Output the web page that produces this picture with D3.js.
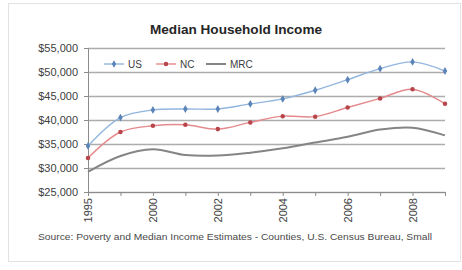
<!DOCTYPE html>
<html>
<head>
<meta charset="utf-8">
<script src="https://cdn.jsdelivr.net/npm/d3@7"></script>
<style>
  html, body { margin: 0; padding: 0; background: #fff; }
  svg { display: block; font-family: "Liberation Sans", Arial, sans-serif; }
</style>
</head>
<body>
<div id="chart"></div>
<script>
/* ---------- Data ---------- */
const years = ["1995","1997","2000","2001","2002","2003","2004","2005","2006","2007","2008","2009"];
const usIncome  = [34600, 40500, 42100, 42300, 42300, 43350, 44400, 46200, 48400, 50700, 52100, 50200];
const ncIncome  = [32100, 37500, 38800, 39000, 38100, 39500, 40800, 40700, 42600, 44500, 46400, 43400];
const mrcIncome = [29200, 32500, 33900, 32700, 32600, 33200, 34100, 35300, 36500, 38000, 38400, 36800];
const yTicks = [25000, 30000, 35000, 40000, 45000, 50000, 55000];
const shownYears = ["1995","2000","2002","2004","2006","2008"];

const series = [
  { name: "US",  values: usIncome,  color: "#93b6de", marker: "#5b84b8", symbol: d3.symbolDiamond, width: 1.4 },
  { name: "NC",  values: ncIncome,  color: "#e58a8c", marker: "#b8454a", symbol: d3.symbolCircle,  width: 1.4 },
  { name: "MRC", values: mrcIncome, color: "#858585", marker: null,      symbol: null,             width: 2 }
];

/* ---------- Chart ---------- */
const W = 462, H = 270;
const M = { top: 48, right: 17, bottom: 78, left: 88 };

const svg = d3.select("#chart").append("svg")
  .attr("width", W).attr("height", H);

// faint outer frame of the chart object
svg.append("rect")
  .attr("x", 8.5).attr("y", 3.5).attr("width", 452).attr("height", 258)
  .attr("fill", "#fff").attr("stroke", "#e2e2e2");

const x = d3.scalePoint().domain(years).range([M.left, W - M.right]);
const y = d3.scaleLinear().domain([25000, 55000]).range([H - M.bottom, M.top]);

// title
svg.append("text")
  .attr("x", 236).attr("y", 34)
  .attr("text-anchor", "middle")
  .attr("font-size", 12).attr("font-weight", "bold")
  .attr("fill", "#262626")
  .attr("textLength", 172).attr("lengthAdjust", "spacingAndGlyphs")
  .text("Median  Household Income");

// horizontal grid
svg.append("g")
  .attr("transform", `translate(${M.left},0)`)
  .call(d3.axisLeft(y).tickValues(yTicks).tickSize(-(W - M.left - M.right)).tickFormat(""))
  .call(g => g.select(".domain").remove())
  .call(g => g.selectAll("line").attr("stroke", "#adadad").attr("stroke-width", 1.4));

// y axis
svg.append("g")
  .attr("transform", `translate(${M.left},0)`)
  .call(d3.axisLeft(y).tickValues(yTicks).tickSize(4).tickPadding(6).tickFormat(d3.format("$,")))
  .call(g => g.select(".domain").attr("stroke", "#8c8c8c"))
  .call(g => g.selectAll("line").attr("stroke", "#8c8c8c"))
  .call(g => g.selectAll("text").attr("font-size", 11).attr("fill", "#404040")
              .attr("font-family", "Liberation Sans, Arial, sans-serif"));

// x axis
svg.append("g")
  .attr("transform", `translate(0,${H - M.bottom})`)
  .call(d3.axisBottom(x).tickSize(4).tickFormat(d => shownYears.includes(d) ? d : ""))
  .call(g => g.select(".domain").attr("stroke", "#8c8c8c"))
  .call(g => g.selectAll("line").attr("stroke", "#8c8c8c"))
  .call(g => g.selectAll("text")
      .attr("font-size", 11).attr("fill", "#404040")
      .attr("font-family", "Liberation Sans, Arial, sans-serif")
      .attr("text-anchor", "end")
      .attr("dy", "0.35em")
      .attr("transform", "rotate(-90)")
      .attr("x", -6).attr("y", 0));

// lines
const line = d3.line()
  .x((d, i) => x(years[i]))
  .y(d => y(d))
  .curve(d3.curveCatmullRom.alpha(0.5));

series.forEach(s => {
  svg.append("path")
    .datum(s.values)
    .attr("fill", "none")
    .attr("stroke", s.color)
    .attr("stroke-width", s.width)
    .attr("d", line);
  if (s.symbol) {
    svg.append("g").selectAll("path")
      .data(s.values)
      .join("path")
        .attr("transform", (d, i) => `translate(${x(years[i])},${y(d)})`)
        .attr("d", d3.symbol(s.symbol, s.name === "US" ? 18 : 16))
        .attr("fill", s.marker);
  }
});

// legend
const legendX = [104, 156, 206];
const legend = svg.append("g").attr("transform", "translate(0,64)");
series.forEach((s, i) => {
  const g = legend.append("g").attr("transform", `translate(${legendX[i]},0)`);
  g.append("line").attr("x1", 0).attr("x2", 20)
    .attr("stroke", s.color).attr("stroke-width", s.width);
  if (s.symbol) {
    g.append("path").attr("transform", "translate(10,0)")
      .attr("d", d3.symbol(s.symbol, 16)).attr("fill", s.marker);
  }
  g.append("text").attr("x", 24).attr("dy", "0.35em")
    .attr("font-size", 10).attr("fill", "#404040")
    .text(s.name);
});

// source note
svg.append("text")
  .attr("x", 38).attr("y", 240)
  .attr("font-size", 9).attr("fill", "#4a4a4a")
  .attr("textLength", 394).attr("lengthAdjust", "spacingAndGlyphs")
  .text("Source:  Poverty and Median Income Estimates - Counties, U.S. Census Bureau, Small");
</script>
</body>
</html>
